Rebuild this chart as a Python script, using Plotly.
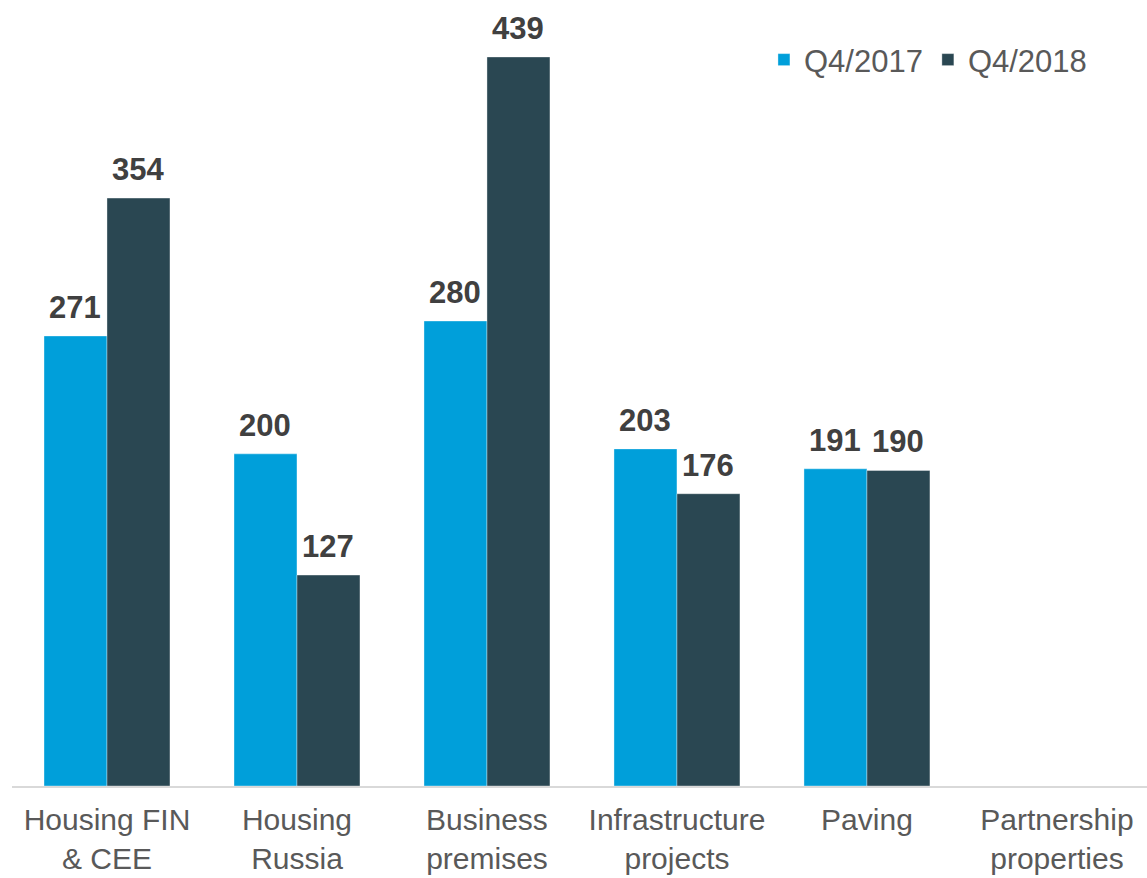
import plotly.graph_objects as go

categories = ["Housing FIN<br>& CEE", "Housing<br>Russia", "Business<br>premises",
              "Infrastructure<br>projects", "Paving", "Partnership<br>properties"]
q4_2017 = [271, 200, 280, 203, 191, None]
q4_2018 = [354, 127, 439, 176, 190, None]

series = [("Q4/2017", q4_2017, "#009FDA"), ("Q4/2018", q4_2018, "#2A4752")]

fig = go.Figure()
for name, vals, color in series:
    fig.add_trace(go.Bar(
        x=categories, y=vals, name=name,
        marker=dict(color=color, line=dict(color="rgba(255,255,255,0.6)", width=0.6)),
        hoverinfo="skip",
    ))

# value labels above each bar, offset to the bar's slot within its group
bar_px = 63
for i, (name, vals, color) in enumerate(series):
    shift = (i - 0.5) * bar_px
    for cat, v in zip(categories, vals):
        if v is None:
            continue
        fig.add_annotation(
            x=cat, y=v, text=f"<b>{v}</b>", showarrow=False,
            xref="x", yref="y", xanchor="center", yanchor="bottom",
            xshift=shift, yshift=9,
            font=dict(family="Arial, Liberation Sans, sans-serif", size=31, color="#404040"),
        )

fig.update_layout(
    width=1147, height=878,
    margin=dict(l=12, r=0, t=0, b=92),
    paper_bgcolor="white", plot_bgcolor="white",
    barmode="group", bargap=0.337, bargroupgap=0,
    font=dict(family="Arial, Liberation Sans, sans-serif", size=31, color="#595959"),
    showlegend=True,
    legend=dict(orientation="h", x=0.9515, xanchor="right", y=0.9237, yanchor="middle",
                font=dict(size=31, color="#595959"), itemwidth=30,
                bgcolor="rgba(0,0,0,0)"),
    xaxis=dict(range=[-0.5, 5.474], showline=True, linecolor="#D9D9D9", linewidth=1.5,
               ticks="", ticklabelstandoff=6, automargin=False, showgrid=False,
               zeroline=False, fixedrange=True, tickfont=dict(size=30)),
    yaxis=dict(range=[0, 473.3], visible=False, showgrid=False, zeroline=False,
               automargin=False),
)

fig.write_html("out.html")
